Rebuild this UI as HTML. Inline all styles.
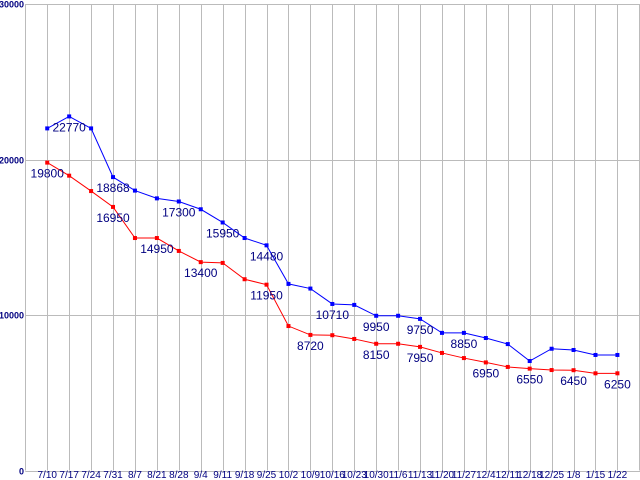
<!DOCTYPE html>
<html><head><meta charset="utf-8"><style>
html,body{margin:0;padding:0;background:#fff;width:640px;height:480px;overflow:hidden}
svg{display:block;font-family:"Liberation Sans","DejaVu Sans",sans-serif}
</style></head><body>
<svg id="chart" width="640" height="480"></svg>
<script>
const categories=["7/10","7/17","7/24","7/31","8/7","8/21","8/28","9/4","9/11","9/18","9/25","10/2","10/9","10/16","10/23","10/30","11/6","11/13","11/20","11/27","12/4","12/11","12/18","12/25","1/8","1/15","1/22"];
const blueValues=[22000,22770,22000,18868,18000,17500,17300,16800,15950,14950,14480,12000,11700,10710,10650,9950,9950,9750,8850,8850,8520,8130,7040,7830,7750,7430,7430];
const redValues=[19800,18960,17970,16950,14950,14950,14120,13400,13350,12300,11950,9290,8720,8700,8460,8150,8150,7950,7560,7230,6950,6660,6550,6460,6450,6250,6250];
const blueLabelIdx=[1,3,6,8,10,13,15,17,19];
const redLabelIdx=[0,3,5,7,10,12,15,17,20,22,24,26];
const yTicks=[0,10000,20000,30000];
const yTickLabels=["0","10000","20000","30000"];

const NS="http://www.w3.org/2000/svg";
const svg=document.getElementById('chart');
const x0=25.3,step=21.93,yBase=470.5,yTop=4,yMax=30000;
function xs(i){return x0+step*(i+1);}
function ys(v){return yBase-(yBase-yTop)*v/yMax;}
function mk(tag,attrs,parent){const e=document.createElementNS(NS,tag);for(const k in attrs)e.setAttribute(k,attrs[k]);(parent||svg).appendChild(e);return e;}

const grid=mk('g',{});


for(let i=0;i<=categories.length;i++){
  const gx=Math.round(xs(i))+0.5;
  const l=mk('line',{x1:gx,x2:gx,y1:yTop,y2:yBase,stroke:'#bbb','stroke-width':1},grid);
  
  
}
yTicks.forEach((t,i)=>{
  const gy=Math.round(ys(t))+0.5;
  const l=mk('line',{x1:x0,x2:640,y1:gy,y2:gy,stroke:'#bbb','stroke-width':1},grid);
  
  
  const tx=mk('text',{x:24,y:gy+3,'text-anchor':'end','font-size':'9','font-weight':'bold',fill:'#000080'});
  tx.textContent=yTickLabels[i];
  
  
});
const ax=mk('line',{x1:25.5,x2:25.5,y1:yTop,y2:yBase,stroke:'#bbb'});


categories.forEach((c,i)=>{
  const t=mk('text',{x:xs(i),y:478,'text-anchor':'middle','font-size':'10',fill:'#000080'});
  t.textContent=c;
  
  
});
function series(vals,color,name,labelIdx){
  const g=mk('g',{});
  
  
  const pl=mk('polyline',{points:vals.map((v,i)=>xs(i)+','+ys(v)).join(' '),fill:'none',stroke:color,'stroke-width':1},g);
  
  
  vals.forEach((v,i)=>{
    const r=mk('rect',{x:xs(i)-2,y:ys(v)-2,width:4,height:4,fill:color},g);
    
    
  });
  labelIdx.forEach(i=>{
    const t=mk('text',{x:xs(i),y:ys(vals[i])+15,'text-anchor':'middle','font-size':'12',fill:'#000080'},g);
    t.textContent=String(vals[i]);
    
    
  });
}
series(redValues,'#ff0000','red-series',redLabelIdx);
series(blueValues,'#0000ff','blue-series',blueLabelIdx);
</script>
</body></html>
